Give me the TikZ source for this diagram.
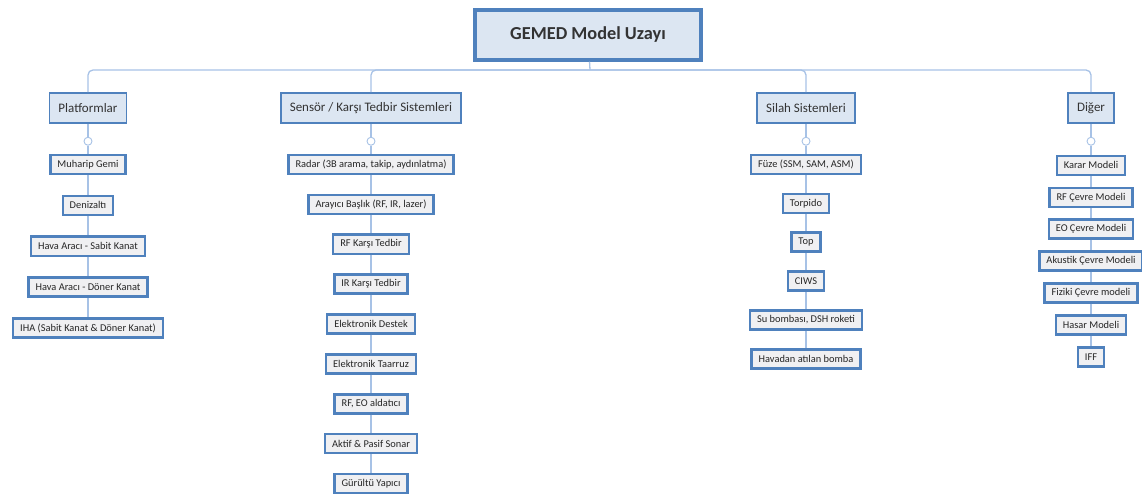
\documentclass[tikz,border=0pt]{standalone}
\usepackage{fontspec}
\setmainfont{Carlito}
\usepackage{xcolor}
\usetikzlibrary{positioning}

\definecolor{boxblue}{HTML}{4F81BD}
\definecolor{linkblue}{HTML}{A7C2E6}
\definecolor{itemfill}{HTML}{F0F0F2}
\definecolor{catfill}{HTML}{DCE6F2}

\begin{document}
\begin{tikzpicture}[
  x=1pt, y=-1pt,
  root/.style={rectangle, draw=boxblue, line width=3.5pt, fill=catfill,
               minimum width=226pt, minimum height=50pt,
               font=\fontsize{18.3}{22}\selectfont\bfseries, text=black!80},
  cat/.style={rectangle, draw=boxblue, line width=1.6pt, fill=catfill,
              minimum height=30pt, inner xsep=9pt,
              font=\fontsize{13}{15}\selectfont, text=black!80},
  item/.style={rectangle, draw=boxblue, line width=2.4pt, fill=itemfill,
               minimum height=19pt, inner xsep=7pt, inner ysep=0pt,
               font=\fontsize{10.4}{12}\selectfont, text=black!85},
  knob/.style={circle, draw=linkblue, fill=white, line width=0.9pt,
               minimum size=8pt, inner sep=0pt},
  link/.style={draw=linkblue, line width=1.3pt}
]
\useasboundingbox (0,0) rectangle (1142,494);

% top level
\node[root] (top) at (588,35) {GEMED Model Uzayı};
\coordinate (bus) at (590,70);
\node[cat] (plat) at (88,108) {Platformlar};
\node[cat] (sens) at (371,108) {Sensör / Karşı Tedbir Sistemleri};
\node[cat] (silah) at (806,108) {Silah Sistemleri};
\node[cat] (diger) at (1091,108) {Diğer};

\draw[link, rounded corners=5pt] (plat.north) |- (bus) -| (diger.north);
\draw[link, rounded corners=5pt] (sens.north) |- (bus);
\draw[link, rounded corners=5pt] (silah.north) |- (bus);
\draw[link] (top) -- (bus);

% Platformlar
\node[knob, below=13pt of plat] (k1) {};
\node[item, below=8pt of k1] (p1) {Muharip Gemi};
\node[item, below=19.5pt of p1] (p2) {Denizaltı};
\node[item, below=19.5pt of p2] (p3) {Hava Aracı - Sabit Kanat};
\node[item, below=19.5pt of p3] (p4) {Hava Aracı - Döner Kanat};
\node[item, below=19.5pt of p4] (p5) {IHA (Sabit Kanat \& Döner Kanat)};

% Sensör / Karşı Tedbir
\node[knob, below=13pt of sens] (k2) {};
\node[item, below=8pt of k2] (s1) {Radar (3B arama, takip, aydınlatma)};
\node[item, below=18.5pt of s1] (s2) {Arayıcı Başlık (RF, IR, lazer)};
\node[item, below=18.5pt of s2] (s3) {RF Karşı Tedbir};
\node[item, below=18.5pt of s3] (s4) {IR Karşı Tedbir};
\node[item, below=18.5pt of s4] (s5) {Elektronik Destek};
\node[item, below=18.5pt of s5] (s6) {Elektronik Taarruz};
\node[item, below=18.5pt of s6] (s7) {RF, EO aldatıcı};
\node[item, below=18.5pt of s7] (s8) {Aktif \& Pasif Sonar};
\node[item, below=18.5pt of s8] (s9) {Gürültü Yapıcı};

% Silah Sistemleri
\node[knob, below=13pt of silah] (k3) {};
\node[item, below=8pt of k3] (w1) {Füze (SSM, SAM, ASM)};
\node[item, below=17.5pt of w1] (w2) {Torpido};
\node[item, below=17.5pt of w2] (w3) {Top};
\node[item, below=17.5pt of w3] (w4) {CIWS};
\node[item, below=17.5pt of w4] (w5) {Su bombası, DSH roketi};
\node[item, below=17.5pt of w5] (w6) {Havadan atılan bomba};

% Diğer
\node[knob, below=13pt of diger] (k4) {};
\node[item, below=9pt of k4] (d1) {Karar Modeli};
\node[item, below=10.5pt of d1] (d2) {RF Çevre Modeli};
\node[item, below=10.5pt of d2] (d3) {EO Çevre Modeli};
\node[item, below=10.5pt of d3] (d4) {Akustik Çevre Modeli};
\node[item, below=10.5pt of d4] (d5) {Fiziki Çevre modeli};
\node[item, below=10.5pt of d5] (d6) {Hasar Modeli};
\node[item, below=10.5pt of d6] (d7) {IFF};

\foreach \a/\b in {plat/k1,k1/p1,p1/p2,p2/p3,p3/p4,p4/p5,
                   sens/k2,k2/s1,s1/s2,s2/s3,s3/s4,s4/s5,s5/s6,s6/s7,s7/s8,s8/s9,
                   silah/k3,k3/w1,w1/w2,w2/w3,w3/w4,w4/w5,w5/w6,
                   diger/k4,k4/d1,d1/d2,d2/d3,d3/d4,d4/d5,d5/d6,d6/d7}
  \draw[link] (\a)--(\b);
\end{tikzpicture}
\end{document}
